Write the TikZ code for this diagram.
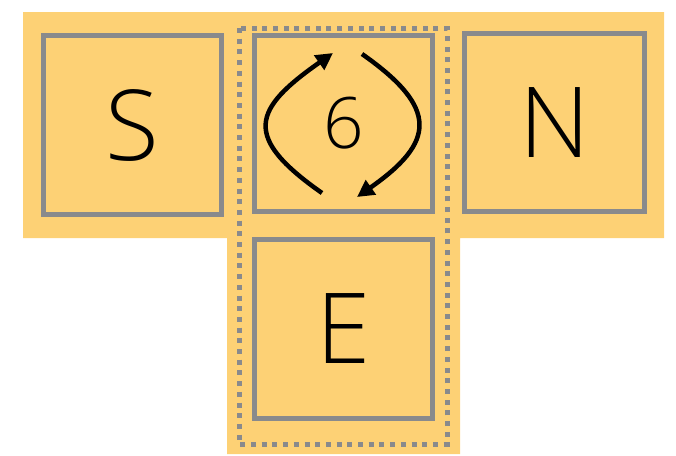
\documentclass[tikz,border=0pt]{standalone}
\usepackage{fontspec}
\setmainfont{Open Sans Light}
\usetikzlibrary{arrows.meta}
\definecolor{bgorange}{RGB}{253,209,117}
\definecolor{boxgray}{RGB}{137,138,140}
\tikzset{
  cell/.style={draw=boxgray, line width=5pt, inner sep=0pt, font=\fontsize{98}{98}\selectfont},
  cyc/.style={line width=4.5pt, -{Triangle[length=17pt,width=17pt]}},
  group/.style={draw=boxgray, line width=5pt, dash pattern=on 5pt off 5.7pt}
}
\begin{document}
\begin{tikzpicture}[x=1pt,y=-1pt]
\useasboundingbox (0,0) rectangle (676,455);
\fill[bgorange] (23,12) -- (664,12) -- (664,238) -- (460,238) -- (460,454) -- (227,454) -- (227,238) -- (23,238) -- cycle;
\draw[group] (239,28) rectangle (447,444);
\node[cell, minimum width=178pt, minimum height=179pt] (S) at (132.5,125) {S};
\node[cell, minimum width=178pt, minimum height=176pt, font=\fontsize{71}{71}\selectfont] (C) at (343.5,123.5) {6};
\node[cell, minimum width=178pt, minimum height=179pt] (E) at (343.5,329) {E};
\node[cell, minimum width=180pt, minimum height=178pt] (N) at (554.5,122.5) {N};
\coordinate (l1) at (322,193);
\coordinate (l2) at (333,53);
\coordinate (r1) at (362,54);
\coordinate (r2) at (357,197);
\draw[cyc] (l1) .. controls (241.7,136.7) and (252.7,109.3) .. (l2);
\draw[cyc] (r1) .. controls (439.8,108.5) and (434.8,142.5) .. (r2);
\end{tikzpicture}
\end{document}
